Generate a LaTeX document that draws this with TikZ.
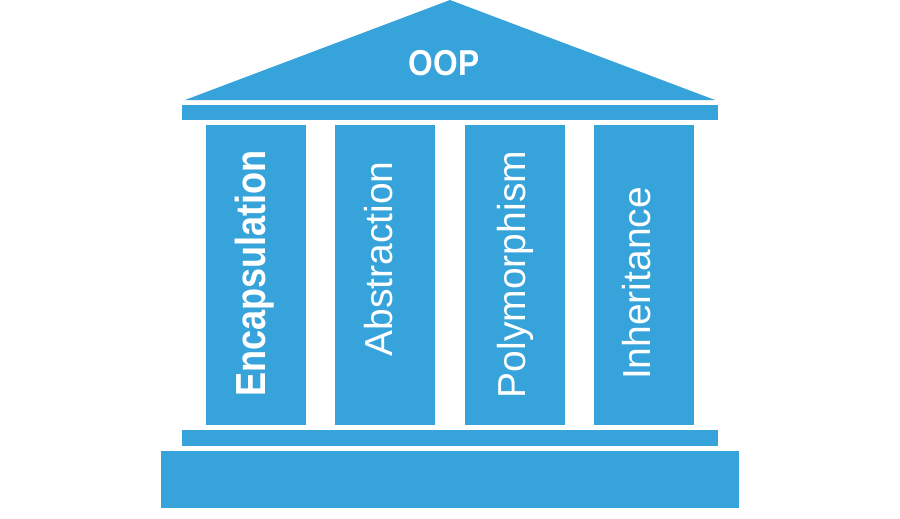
\documentclass[tikz,border=0pt]{standalone}
\usepackage{fontspec}
\usepackage{graphicx}
\setmainfont{Liberation Sans}
\definecolor{pillarblue}{RGB}{54,164,219}
\begin{document}
\begin{tikzpicture}[x=1pt,y=-1pt,
  part/.style={fill=pillarblue,draw=none},
  coltext/.style={text=white,rotate=90,anchor=base,inner sep=0pt,font=\fontsize{39}{39}\selectfont}]
\useasboundingbox (0,0) rectangle (900,519);
% roof
\path[part] (185,100) -- (450,0) -- (715,100) -- cycle;
\node[text=white,anchor=base,inner sep=0pt,font=\bfseries\fontsize{36}{36}\selectfont] (oop) at (444,75) {\scalebox{0.88}[1]{OOP}};
% architrave
\path[part] (182,105) rectangle (718,120);
% columns
\path[part] (206,125) rectangle (306,425);
\path[part] (335,125) rectangle (435,425);
\path[part] (465,125) rectangle (565,425);
\path[part] (594,125) rectangle (694,425);
% bottom bar and base
\path[part] (182,430) rectangle (718,446);
\path[part] (161,451) rectangle (739,508);
% labels
\node[coltext,font=\bfseries\fontsize{42}{42}\selectfont] (enc) at (265,273.5) {\scalebox{0.86}[1]{Encapsulation}};
\node[coltext] (abs) at (392,259) {Abstraction};
\node[coltext] (poly) at (525,274.5) {Polymorphism};
\node[coltext] (inh) at (650,283.5) {Inheritance};
\end{tikzpicture}
\end{document}
